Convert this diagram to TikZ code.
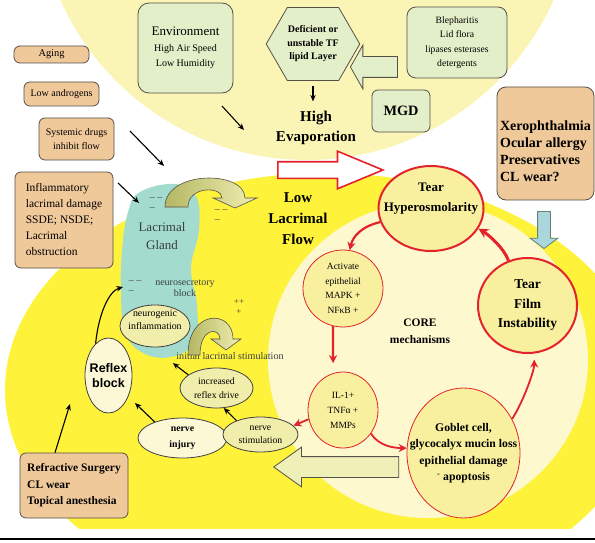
\documentclass[tikz,border=0pt]{standalone}
\usepackage{fontspec}
\setmainfont{Liberation Serif}
\newfontfamily\arialfont{Liberation Sans}
\usepackage{tikz}
\usepackage{xcolor}
\usetikzlibrary{shapes.geometric, shapes.arrows, shapes.symbols, arrows.meta}

\definecolor{tanfill}{HTML}{F0C99B}
\definecolor{greenfill}{HTML}{E3EFC9}
\definecolor{boxline}{HTML}{55504A}
\definecolor{topyellow}{HTML}{FBF5B5}
\definecolor{flowyellow}{HTML}{FFF23A}
\definecolor{corepale}{HTML}{FDF8CE}
\definecolor{cellfill}{HTML}{F9F09F}
\definecolor{redline}{HTML}{E3222B}
\definecolor{glandteal}{HTML}{A3DBCF}
\definecolor{nervefill}{HTML}{F1EDAA}
\definecolor{reflexfill}{HTML}{FCF8D6}
\definecolor{bluefill}{HTML}{A9D7DB}
\definecolor{backfill}{HTML}{EEF0B8}
\definecolor{olivedark}{HTML}{B4B763}
\definecolor{olivelight}{HTML}{F0EFB2}
\definecolor{darktext}{HTML}{3A403E}

\newcommand{\setfs}[2]{\fontsize{#1}{#2}\selectfont}

\tikzstyle{tanbox} = [rectangle, rounded corners=6pt,
draw=boxline,
fill=tanfill,
line width=0.8pt,
inner sep=0pt]
\tikzstyle{greenbox} = [rectangle, rounded corners=8pt,
draw=boxline,
fill=greenfill,
line width=0.8pt,
inner sep=0pt,
align=center]
\tikzstyle{hexbox} = [signal, signal to=west and east,
signal pointer angle=120,
draw=boxline,
fill=greenfill,
line width=0.8pt,
inner xsep=0pt,
align=center]
\tikzstyle{cell} = [ellipse, draw=redline, fill=cellfill,
line width=0.8pt,
inner sep=-30pt,
align=center]
\tikzstyle{keycell} = [cell, line width=2pt, font=\bfseries\setfs{13}{20}]
\tikzstyle{nervecell} = [ellipse, draw=black!75, fill=nervefill,
line width=0.8pt,
inner sep=-30pt,
align=center]
\tikzstyle{bigtext} = [font=\bfseries\setfs{15}{20.5}, align=center]
\tikzstyle{glandtext} = [text=darktext, align=center]
\tikzstyle{fatarrow} = [single arrow, draw=boxline, line width=0.8pt, anchor=tip]
\tikzstyle{curlarrow} = [left color=olivedark, right color=olivelight, draw=boxline, line width=0.6pt]
\tikzstyle{arrow} = [line width=1.1pt, -{Stealth[length=6.5pt, width=5.5pt]}]
\tikzstyle{redarrow} = [draw=redline, line width=2.2pt, -{Stealth[length=8pt, width=8pt]}]

\begin{document}
\begin{tikzpicture}[x=1pt, y=-1pt, font=\setfs{10}{14}]

        \useasboundingbox (0,0) rectangle (595,543);

        % --- Background regions ---
        \begin{scope}
            \clip (0,0) rectangle (595,543);
            \fill [topyellow] (307,-110) ellipse [x radius=270, y radius=270];
        \end{scope}
        \begin{scope}
            \clip (5,0) rectangle (595,528);
            \fill [flowyellow] (325,390) ellipse [x radius=320, y radius=217];
        \end{scope}
        \fill [corepale] (428,360) ellipse [x radius=160, y radius=158];

        % lacrimal gland
        \fill [glandteal] plot [smooth cycle, tension=0.7] coordinates {(140,192) (175,184) (196,196) (199,230) (191,268) (197,305) (195,340) (175,356) (145,354) (125,332) (121,290) (122,250) (128,212)};

        % --- Gland annotations ---
        \node (gland) [glandtext, font=\setfs{13}{18}] at (162,236) {Lacrimal\\Gland};
        \node (neurosec) [glandtext, font=\setfs{10}{11.5}] at (185,288) {neurosecretory\\block};
        \node (initstim) [glandtext, font=\setfs{10.1}{12}] at (230,356) {initial lacrimal stimulation};
        \node (dashA) [glandtext, align=left, font=\setfs{10}{10}] at (156,204) {-- --\\--};
        \node (dashB) [glandtext, align=left, font=\setfs{10}{10}] at (221,216) {-- --\\--};
        \node (dashC) [glandtext, align=left, font=\setfs{10}{10}] at (135,287) {-- --\\--};
        \node (plusA) [glandtext, font=\setfs{9}{10}] at (239,307) {++\\+};

        % curved flow arrows out of the gland
        \shadedraw [curlarrow] (165,207) .. controls (165,170) and (245,170) .. (245,198) -- (257,198) -- (235,208) -- (213,198) -- (222,198) .. controls (222,186) and (188,186) .. (188,207) -- cycle;
        \shadedraw [curlarrow] (188,355) .. controls (188,309) and (233,309) .. (233,339) -- (241,339) -- (226,350) -- (211,339) -- (220,339) .. controls (220,327) and (200,327) .. (200,355) -- cycle;

        % --- Causes ---
        \node (aging) [tanbox, minimum width=75pt, minimum height=17pt, font=\setfs{10.4}{12}] at (51.5,54.5) {Aging};
        \node (androgens) [tanbox, minimum width=75pt, minimum height=24pt] at (61.5,94) {Low androgens};
        \node (systemic) [tanbox, minimum width=75pt, minimum height=42pt, align=center, font=\setfs{10}{14.5}] at (76.5,139) {Systemic drugs\\inhibit flow};
        \node (inflam) [tanbox, minimum width=98pt, minimum height=96pt, align=left, font=\setfs{11.5}{16}] at (64,220) {Inflammatory\\lacrimal damage\\SSDE; NSDE;\\Lacrimal\\obstruction};
        \node (refr) [tanbox, minimum width=108pt, minimum height=65pt, align=left, font=\bfseries\setfs{11.5}{16.5}] at (74,485.5) {Refractive Surgery\\CL wear\\Topical anesthesia};
        \node (xero) [tanbox, rounded corners=9pt, minimum width=97pt, minimum height=113pt, align=left, font=\bfseries\setfs{14}{17}] at (545.5,143.5) {\rule{0pt}{25pt}Xerophthalmia\\Ocular allergy\\Preservatives\\CL wear?};

        \node (env) [greenbox, rounded corners=11pt, minimum width=95pt, minimum height=90pt, font=\setfs{10}{14.5}] at (185.5,48) {{\setfs{13}{15}Environment}\\[1.5pt]High Air Speed\\Low Humidity};
        \node (hex) [hexbox, minimum width=90pt, minimum height=73pt, font=\bfseries\setfs{10}{13.5}] at (313,44) {Deficient or\\unstable TF\\lipid Layer};
        \node (bleph) [greenbox, rounded corners=9pt, minimum width=100pt, minimum height=71pt, font=\setfs{9.7}{14.5}] at (457,42.5) {Blepharitis\\Lid flora\\lipases esterases\\detergents};
        \node (mgd) [greenbox, rounded corners=6pt, minimum width=58pt, minimum height=42pt, font=\bfseries\setfs{14.3}{16}] at (401,111) {MGD};

        % --- Broad arrows ---
        \node (mgdarrow) [fatarrow, fill=greenfill, inner sep=10pt, minimum height=47pt, minimum width=43pt, single arrow head extend=11.5pt, single arrow tip angle=121, shape border rotate=180] at (350,67) {};
        \node (flowarrow) [fatarrow, draw=redline, fill=white, line width=1.6pt, inner sep=7.5pt, minimum height=105pt, minimum width=36pt, single arrow head extend=10.5pt, single arrow tip angle=45] at (385,170) {};
        \node (bluearrow) [fatarrow, draw=gray!80!teal, fill=bluefill, inner sep=6pt, minimum height=37pt, minimum width=27pt, single arrow head extend=7.5pt, single arrow tip angle=107, shape border rotate=270] at (544,249) {};
        \node (backarrow) [fatarrow, fill=backfill, inner sep=10pt, minimum height=125pt, minimum width=39pt, single arrow head extend=9.5pt, single arrow tip angle=71, shape border rotate=180] at (273,467) {};

        % --- Headings ---
        \node (evap) [bigtext] at (316,128) {High\\Evaporation};
        \node (lowflow) [bigtext, font=\bfseries\setfs{15}{21}] at (298,219) {Low\\Lacrimal\\Flow};
        \node (core) [font=\bfseries\setfs{11.5}{17}, align=center] at (420,331) {CORE\\mechanisms};

        % --- Core mechanisms ---
        \node (hyper) [keycell, minimum width=105pt, minimum height=85pt] at (431,208.5) {Tear\\Hyperosmolarity\rule[-23pt]{0pt}{23pt}};
        \node (film) [keycell, minimum width=99pt, minimum height=95pt, font=\bfseries\setfs{13.5}{19.5}] at (527.5,305.5) {Tear\\Film\\Instability};
        \node (activate) [cell, minimum width=80pt, minimum height=77pt, font=\setfs{9.5}{14.7}] at (343,288.5) {Activate\\epithelial\\MAPK +\\NFκB +};
        \node (il1) [cell, minimum width=70pt, minimum height=76pt, font=\setfs{9.5}{15}] at (343,410) {IL-1+\\TNFα +\\MMPs};
        \node (goblet) [cell, minimum width=113pt, minimum height=130pt, font=\bfseries\setfs{11.7}{16.5}] at (463.5,453) {Goblet cell,\\glycocalyx mucin loss\\epithelial damage\\\textsuperscript{-} apoptosis};

        % --- Reflex loop ---
        \node (reflex) [nervecell, fill=reflexfill, minimum width=47pt, minimum height=75pt, font=\arialfont\bfseries\setfs{12.5}{15}] at (108.5,375.5) {Reflex\\block};
        \node (neurogenic) [nervecell, minimum width=70pt, minimum height=42pt, font=\setfs{9.9}{13}] at (155,326) {neurogenic\\inflammation\rule[-12pt]{0pt}{12pt}};
        \node (increased) [nervecell, minimum width=73pt, minimum height=40pt, font=\setfs{9.7}{14}] at (216.5,388) {increased\\reflex drive};
        \node (injury) [nervecell, fill=reflexfill, minimum width=89pt, minimum height=40pt, font=\bfseries\setfs{9.8}{15.5}] at (182.5,438) {nerve\\injury};
        \node (stim) [nervecell, minimum width=75pt, minimum height=35pt, font=\setfs{9.7}{13}] at (260.5,434.5) {nerve\\stimulation};

        % --- Free arrow ends ---
        \coordinate (envtail) at (222,106);
        \coordinate (envtip) at (244,130);
        \coordinate (drugtail) at (130,131);
        \coordinate (drugtip) at (164,166);
        \coordinate (inflamtail) at (118,183);
        \coordinate (inflamtip) at (139,203);
        \coordinate (glandin) at (123,287);
        \coordinate (refrtip) at (70,404);
        \coordinate (reflexin) at (135,403);

        % --- Connections ---

        % 1. Causes pointing at evaporation and the gland
        \draw [arrow] (envtail) -- (envtip);
        \draw [arrow] (drugtail) -- (drugtip);
        \draw [arrow] (inflamtail) -- (inflamtip);
        \draw [arrow, shorten <=5pt, shorten >=6pt] (hex.south) -- (hex.south |- evap.north);

        % 2. Reflex loop
        \draw [arrow] (reflex.112) .. controls +(3,-30) and +(-14,4) .. (glandin);
        \draw [arrow] (refr.120) -- (refrtip);
        \draw [arrow] (injury.150) -- (reflexin);
        \draw [arrow] (stim.150) -- (increased.-70);
        \draw [arrow] (increased.155) -- (initstim.south west);

        % 3. Vicious circle (red)
        \draw [redarrow] (hyper.195) .. controls +(-18,4) and +(3,-14) .. (activate.80);
        \draw [redarrow, shorten >=10pt] (activate.-105) -- (il1.105);
        \draw [redarrow, line width=1.8pt] (il1.-40) .. controls +(8,13) and +(-12,0) .. (goblet.175);
        \draw [redarrow, line width=1.8pt, shorten >=6pt] (goblet.35) .. controls +(10,-15) and +(0,18) .. (film.-82);
        \draw [redarrow, line width=3pt, -{Stealth[length=10pt, width=10pt]}] (film.113) .. controls +(-4,-12) and +(10,6) .. (hyper.-23);
        \draw [redarrow, line width=1.8pt] (il1.195) -- (stim.15);

        % bottom rule
        \draw [line width=1.3pt] (0,539) -- (595,539);

\end{tikzpicture}
\end{document}
